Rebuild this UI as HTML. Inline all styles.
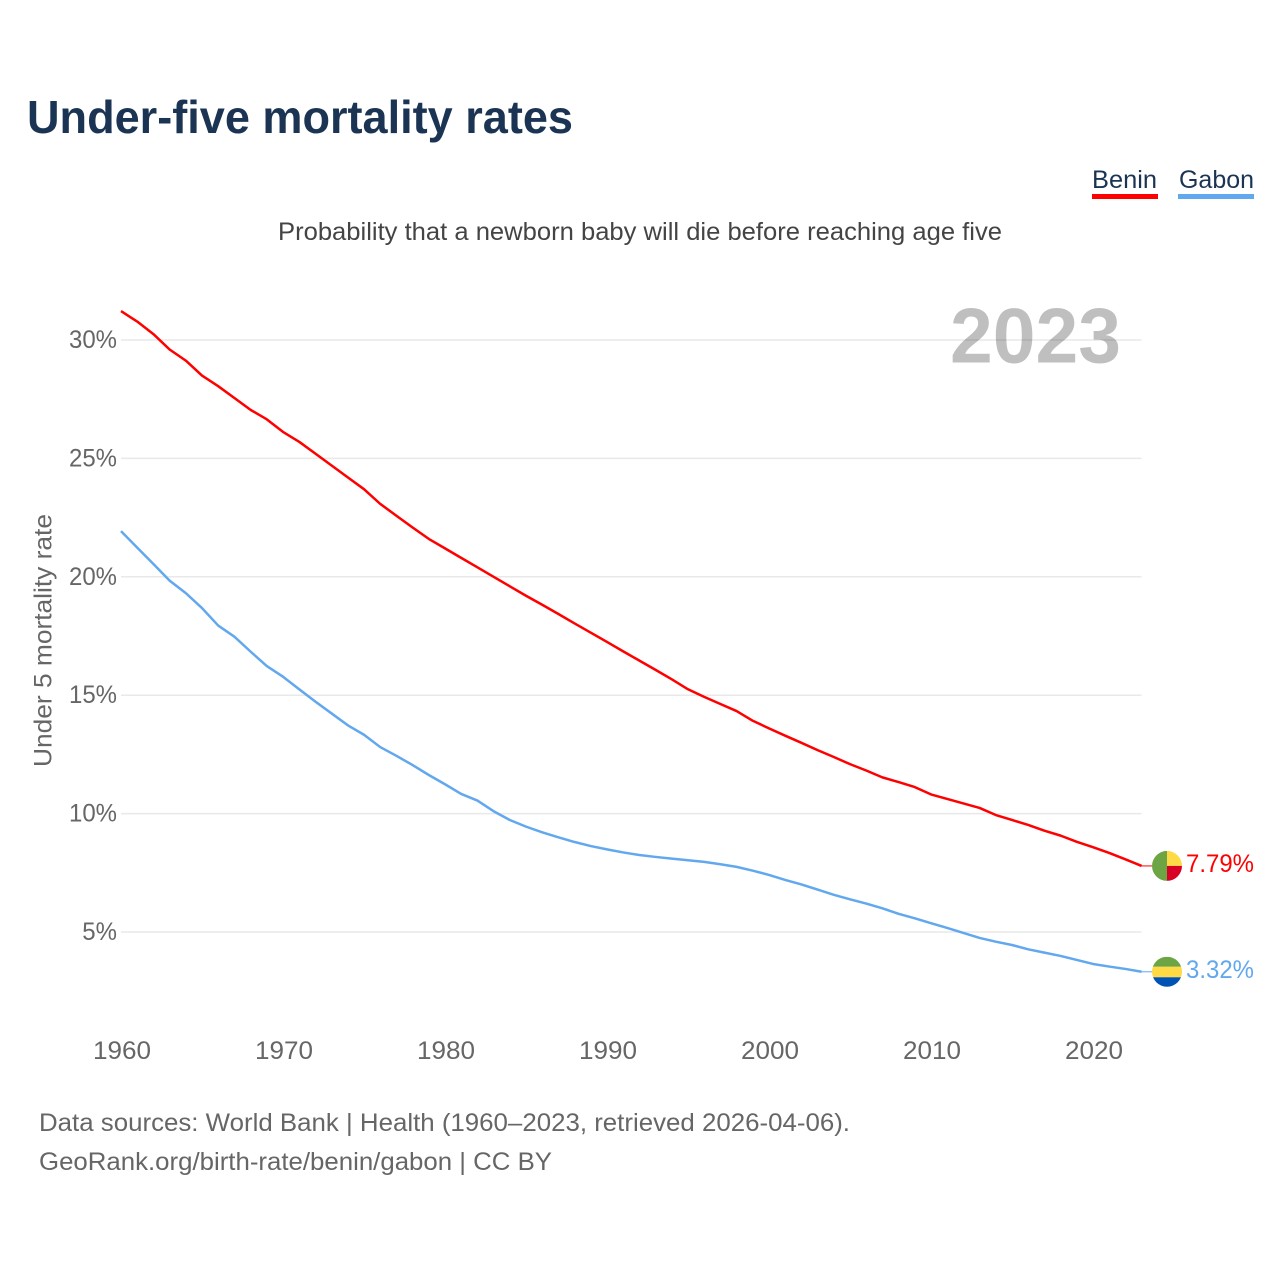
<!DOCTYPE html>
<html lang="en">
<head>
<meta charset="utf-8">
<title>Under-five mortality rates</title>
<style>
html,body{margin:0;padding:0;background:#fff;}
svg{display:block;font-family:"Liberation Sans",sans-serif;}
</style>
</head>
<body>
<svg id="chart" xmlns="http://www.w3.org/2000/svg" width="1280" height="1280" viewBox="0 0 1280 1280">
  <rect x="0" y="0" width="1280" height="1280" fill="#fff"/>
  <text x="27" y="133" font-size="46" font-weight="700" fill="#1b3454" textLength="546" lengthAdjust="spacingAndGlyphs">Under-five mortality rates</text>
  <text x="278" y="240" font-size="25" fill="#444" textLength="724" lengthAdjust="spacingAndGlyphs">Probability that a newborn baby will die before reaching age five</text>

  <g>
    <text x="1092" y="188" font-size="25" fill="#1b3454" textLength="65" lengthAdjust="spacingAndGlyphs">Benin</text>
    <rect x="1092" y="194" width="66" height="5" fill="#ff0000"/>
  </g>
  <g>
    <text x="1179" y="188" font-size="25" fill="#1b3454" textLength="75" lengthAdjust="spacingAndGlyphs">Gabon</text>
    <rect x="1178" y="194" width="76" height="5" fill="#62a8ee"/>
  </g>

  <g id="grid"></g>
  <text x="950" y="362.5" font-size="78" font-weight="700" fill="#000" fill-opacity="0.25" textLength="171" lengthAdjust="spacingAndGlyphs">2023</text>
  <g id="y-ticks"></g>
  <g id="x-ticks"></g>
  <text x="51.5" y="640.5" text-anchor="middle" font-size="25" fill="#666" textLength="253" lengthAdjust="spacingAndGlyphs" transform="rotate(-90 51.5 640.5)">Under 5 mortality rate</text>
  <g id="series"></g>
  <g id="end-labels"></g>

  <text x="39" y="1131" font-size="25" fill="#666" textLength="811" lengthAdjust="spacingAndGlyphs">Data sources: World Bank | Health (1960–2023, retrieved 2026-04-06).</text>
  <text x="39" y="1170" font-size="25" fill="#666" textLength="513" lengthAdjust="spacingAndGlyphs">GeoRank.org/birth-rate/benin/gabon | CC BY</text>
</svg>
<script>
const years = [1960,1961,1962,1963,1964,1965,1966,1967,1968,1969,1970,1971,1972,1973,1974,1975,1976,1977,1978,1979,1980,1981,1982,1983,1984,1985,1986,1987,1988,1989,1990,1991,1992,1993,1994,1995,1996,1997,1998,1999,2000,2001,2002,2003,2004,2005,2006,2007,2008,2009,2010,2011,2012,2013,2014,2015,2016,2017,2018,2019,2020,2021,2022,2023];
const beninValues = [31.22,30.78,30.25,29.6,29.13,28.5,28.05,27.55,27.05,26.65,26.12,25.7,25.2,24.7,24.2,23.7,23.08,22.58,22.08,21.6,21.2,20.8,20.4,20.0,19.6,19.2,18.82,18.43,18.03,17.64,17.25,16.85,16.46,16.07,15.67,15.25,14.93,14.63,14.33,13.92,13.6,13.29,12.99,12.68,12.39,12.09,11.82,11.53,11.33,11.12,10.81,10.62,10.43,10.24,9.94,9.73,9.52,9.28,9.07,8.81,8.58,8.34,8.07,7.79];
const gabonValues = [21.93,21.23,20.54,19.84,19.31,18.68,17.94,17.47,16.84,16.23,15.78,15.25,14.73,14.23,13.73,13.33,12.81,12.44,12.05,11.63,11.24,10.83,10.55,10.1,9.73,9.45,9.21,9.0,8.8,8.63,8.49,8.36,8.25,8.17,8.1,8.03,7.96,7.86,7.75,7.59,7.41,7.2,7.01,6.79,6.57,6.38,6.2,6.0,5.77,5.58,5.37,5.17,4.96,4.75,4.59,4.45,4.27,4.13,3.99,3.82,3.65,3.54,3.44,3.32];
const yTickValues = [5,10,15,20,25,30];
const yTickLabels = ['5%','10%','15%','20%','25%','30%'];
const xTickValues = [1960,1970,1980,1990,2000,2010,2020];
const endValueLabels = ['7.79%','3.32%'];

const NS = 'http://www.w3.org/2000/svg';
const RED = '#ff0000';
const BLUE = '#62a8ee';
function xScale(year){ return 121 + (year - 1960) * 16.2; }
function yScale(v){ return 1050.4 - v * 23.68; }
function make(tag, attrs, parent){
  const el = document.createElementNS(NS, tag);
  for (const k in attrs) el.setAttribute(k, attrs[k]);
  parent.appendChild(el);
  return el;
}
function linePath(values){
  return values.map(function(v, i){
    return (i ? 'L' : 'M') + xScale(years[i]).toFixed(2) + ' ' + yScale(v).toFixed(2);
  }).join(' ');
}

const gridGroup = document.getElementById('grid');
const yTickGroup = document.getElementById('y-ticks');
yTickValues.forEach(function(v, i){
  const line = make('line', {x1: xScale(1960), x2: xScale(2023), y1: yScale(v), y2: yScale(v), stroke: '#e9e9e9', 'stroke-width': 1.5}, gridGroup);
  
  
  const label = make('text', {x: 117, y: yScale(v) + 8, 'text-anchor': 'end', 'font-size': 25, fill: '#666'}, yTickGroup);
  label.textContent = yTickLabels[i];
  
  
  label.setAttribute('textLength', (label.getComputedTextLength() * 0.96).toFixed(1));
  label.setAttribute('lengthAdjust', 'spacingAndGlyphs');
});

const xTickGroup = document.getElementById('x-ticks');
xTickValues.forEach(function(year){
  const label = make('text', {x: xScale(year) + 1, y: 1059, 'text-anchor': 'middle', 'font-size': 25, fill: '#666', textLength: 58, lengthAdjust: 'spacingAndGlyphs'}, xTickGroup);
  label.textContent = String(year);
  
  
});

const seriesGroup = document.getElementById('series');
const beninLine = make('path', {d: linePath(beninValues), fill: 'none', stroke: RED, 'stroke-width': 2.5, 'stroke-linejoin': 'round'}, seriesGroup);


const gabonLine = make('path', {d: linePath(gabonValues), fill: 'none', stroke: BLUE, 'stroke-width': 2.5, 'stroke-linejoin': 'round'}, seriesGroup);



const endGroup = document.getElementById('end-labels');
const defs = make('defs', {}, endGroup);
function flagFrame(id, cy){
  const clip = make('clipPath', {id: id}, defs);
  make('circle', {cx: 1167, cy: cy, r: 15}, clip);
  return make('g', {'clip-path': 'url(#' + id + ')'}, endGroup);
}
function connector(cy, color){
  const c = make('line', {x1: xScale(2023), x2: 1152, y1: cy, y2: cy, stroke: color, 'stroke-width': 1}, endGroup);
  
  
}
function endLabel(text, cy, color){
  const t = make('text', {x: 1186, y: cy + 6.3, 'font-size': 25, fill: color, textLength: 68, lengthAdjust: 'spacingAndGlyphs'}, endGroup);
  t.textContent = text;
  
  
}

const beninY = yScale(beninValues[beninValues.length - 1]);
connector(beninY, RED);
const beninFlag = flagFrame('clip-benin', beninY);


make('rect', {x: 1152, y: beninY - 15, width: 15, height: 30, fill: '#6da544'}, beninFlag);
make('rect', {x: 1167, y: beninY - 15, width: 15, height: 15, fill: '#ffda44'}, beninFlag);
make('rect', {x: 1167, y: beninY, width: 15, height: 15, fill: '#d80027'}, beninFlag);
endLabel(endValueLabels[0], beninY, RED);

const gabonY = yScale(gabonValues[gabonValues.length - 1]);
connector(gabonY, BLUE);
const gabonFlag = flagFrame('clip-gabon', gabonY);


make('rect', {x: 1152, y: gabonY - 15, width: 30, height: 10, fill: '#6da544'}, gabonFlag);
make('rect', {x: 1152, y: gabonY - 5, width: 30, height: 10.5, fill: '#ffda44'}, gabonFlag);
make('rect', {x: 1152, y: gabonY + 5.5, width: 30, height: 10, fill: '#0052b4'}, gabonFlag);
endLabel(endValueLabels[1], gabonY, BLUE);
</script>
</body>
</html>
